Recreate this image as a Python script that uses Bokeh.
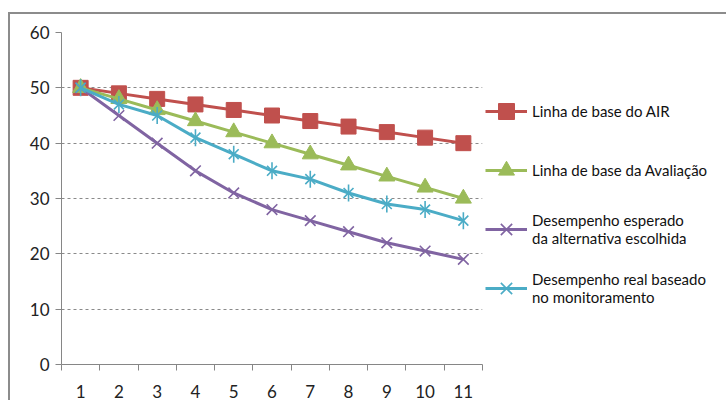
from bokeh.plotting import figure
from bokeh.models import Range1d, FixedTicker, Legend, LegendItem
from bokeh.embed import file_html
from bokeh.resources import INLINE

periods = list(range(1, 12))
linha_air = [50, 49, 48, 47, 46, 45, 44, 43, 42, 41, 40]
linha_avaliacao = [50, 48, 46, 44, 42, 40, 38, 36, 34, 32, 30]
desempenho_esperado = [50, 45, 40, 35, 31, 28, 26, 24, 22, 20.5, 19]
desempenho_real = [50, 47, 45, 41, 38, 35, 33.5, 31, 29, 28, 26]
y_ticks = [0, 10, 20, 30, 40, 50, 60]

labels = ["Linha de base do AIR", "Linha de base da Avaliação",
          "Desempenho esperado\nda alternativa escolhida",
          "Desempenho real baseado\nno monitoramento"]
colors = ["#C0504D", "#9BBB59", "#8064A2", "#4BACC6"]

FONT = "Lato"

p = figure(frame_width=421, frame_height=332, output_backend="svg", toolbar_location=None,
           x_range=Range1d(0.5, 11.5), y_range=Range1d(0, 60),
           min_border_left=51, min_border_top=18, min_border_bottom=35, min_border_right=10)
p.styles = {"margin-top": "12px", "margin-left": "8px",
            "border-left": "2px solid #8c8c8c", "border-top": "2px solid #8c8c8c"}
p.outline_line_color = None
p.background_fill_color = "white"
p.border_fill_color = "white"

# grid
p.xgrid.grid_line_color = None
p.ygrid.grid_line_color = "#8a8a8a"
p.ygrid.grid_line_dash = "3 3"
p.ygrid.grid_line_width = 1
p.ygrid.ticker = FixedTicker(ticks=y_ticks)

# axes
p.yaxis.ticker = FixedTicker(ticks=y_ticks)
p.yaxis.axis_line_color = "#868686"
p.yaxis.major_tick_line_color = "#868686"
p.yaxis.major_tick_out = 6
p.yaxis.major_tick_in = 0
p.yaxis.minor_tick_line_color = None
p.yaxis.major_label_standoff = 6
p.yaxis.major_label_text_font = FONT
p.yaxis.major_label_text_font_size = "17px"
p.yaxis.major_label_text_color = "#222222"

p.xaxis.ticker = FixedTicker(ticks=periods, minor_ticks=[i + 0.5 for i in range(0, 12)])
p.xaxis.axis_line_color = "#868686"
p.xaxis.major_tick_line_color = None
p.xaxis.major_tick_out = 0
p.xaxis.major_tick_in = 0
p.xaxis.minor_tick_line_color = "#868686"
p.xaxis.minor_tick_out = 6
p.xaxis.minor_tick_in = 0
p.xaxis.major_label_standoff = 14
p.xaxis.major_label_text_font = FONT
p.xaxis.major_label_text_font_size = "17px"
p.xaxis.major_label_text_color = "#222222"

series = [linha_air, linha_avaliacao, desempenho_esperado, desempenho_real]
items = []
for i, (vals, col, lab) in enumerate(zip(series, colors, labels)):
    rs = []
    rs.append(p.line(periods, vals, line_color=col, line_width=3))
    if i == 0:
        rs.append(p.scatter(periods, vals, marker="square", size=15, fill_color=col, line_color=col))
    elif i == 1:
        rs.append(p.scatter(periods, vals, marker="triangle", size=16, fill_color=col, line_color=col))
    elif i == 2:
        rs.append(p.scatter(periods, vals, marker="x", size=15, line_color=col, line_width=1.6))
    else:
        rs.append(p.scatter(periods, vals, marker="x", size=14, line_color=col, line_width=1.6))
        rs.append(p.scatter(periods, vals, marker="dash", angle=1.5708, size=17, line_color=col, line_width=1.6))
    items.append(LegendItem(label=lab, renderers=rs))

legend = Legend(items=items, location=(3, 56))
legend.border_line_color = None
legend.background_fill_alpha = 0
legend.glyph_width = 42
legend.glyph_height = 40
legend.label_height = 40
legend.spacing = 19
legend.padding = 0
legend.margin = 0
legend.label_standoff = 5
legend.label_text_font = FONT
legend.label_text_font_size = "15px"
legend.label_text_color = "#111111"
p.add_layout(legend, "right")

open("out.html", "w").write(file_html(p, INLINE))
